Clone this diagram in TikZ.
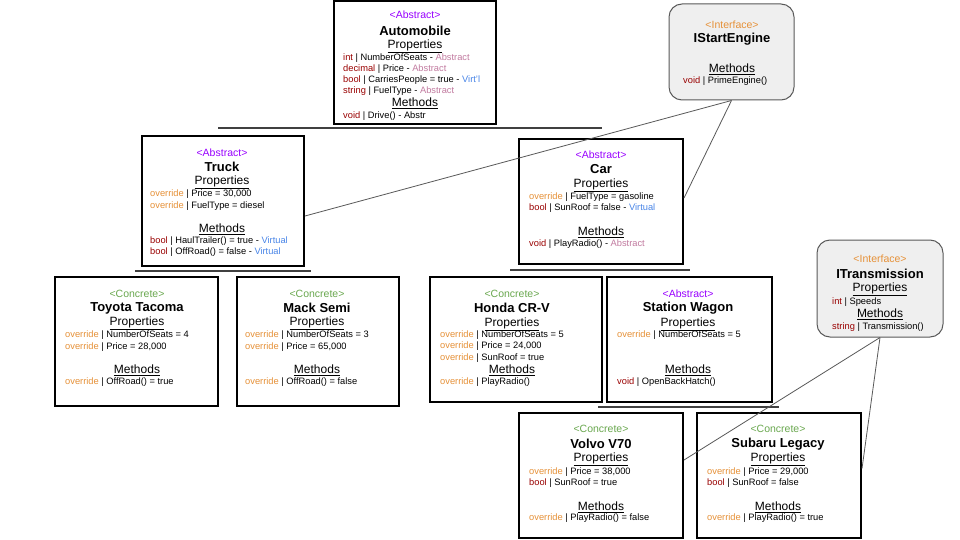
\documentclass[tikz,border=0pt]{standalone}
\usepackage{fontspec}
\setmainfont{Liberation Sans}
\definecolor{abs}{HTML}{9900FF}
\definecolor{con}{HTML}{6AA84F}
\definecolor{ifc}{HTML}{E69138}
\definecolor{typ}{HTML}{990000}
\definecolor{ovr}{HTML}{E69138}
\definecolor{pnk}{HTML}{C27BA0}
\definecolor{vir}{HTML}{4A86E8}
\definecolor{lgray}{HTML}{EFEFEF}
\definecolor{edgec}{HTML}{595959}
\newcommand\ty[1]{\textcolor{typ}{#1}}
\newcommand\ov{\textcolor{ovr}{override}}
\newcommand\ab{\textcolor{pnk}{Abstract}}
\newcommand\vi{\textcolor{vir}{Virtual}}
\begin{document}
\begin{tikzpicture}[x=1pt,y=-1pt,
  box/.style={draw=black, line width=2pt, fill=white, inner sep=0pt},
  iface/.style={draw=edgec, line width=1pt, fill=lgray, rounded corners=13pt, inner sep=0pt},
  st/.style={font=\fontsize{10.5}{12}\selectfont, inner sep=0pt},
  ti/.style={font=\fontsize{13}{15}\selectfont\bfseries, inner sep=0pt},
  hd/.style={font=\fontsize{12}{14}\selectfont, inner sep=0pt},
  it/.style={font=\fontsize{9.3}{11}\selectfont, inner sep=0pt, anchor=west},
  sepline/.style={draw=black!75, line width=1.3pt},
  conn/.style={draw=edgec, line width=0.8pt}]
\useasboundingbox (0,0) rectangle (960,540);
\fill[white] (0,0) rectangle (960,540);

% boxes
\node[box, minimum width=162pt, minimum height=123pt] (auto) at (415,62.5) {};
\node[iface, minimum width=125pt, minimum height=96pt] (istart) at (731.5,52) {};
\node[box, minimum width=162pt, minimum height=130pt] (truck) at (223,201) {};
\node[box, minimum width=164pt, minimum height=125pt] (car) at (601,201.5) {};
\node[box, minimum width=163pt, minimum height=129pt] (toyota) at (136.5,341.5) {};
\node[box, minimum width=162pt, minimum height=129pt] (mack) at (318,341.5) {};
\node[box, minimum width=172pt, minimum height=125pt] (honda) at (516,339.5) {};
\node[box, minimum width=165pt, minimum height=125pt] (wagon) at (689.5,339.5) {};
\node[iface, minimum width=126pt, minimum height=97pt] (itrans) at (880,288.5) {};
\node[box, minimum width=164pt, minimum height=125pt] (volvo) at (601,475.5) {};
\node[box, minimum width=164pt, minimum height=125pt] (subaru) at (779,475.5) {};

% inheritance bars
\draw[sepline] (218,128) -- (602,128);
\draw[sepline] (135,271) -- (311,271);
\draw[sepline] (510,270) -- (690,270);
\draw[sepline] (598,407) -- (779,407);

% interface connectors
\draw[conn] (istart.south) -- ([yshift=-15pt]truck.east);
\draw[conn] (istart.south) -- ([yshift=3.5pt]car.east);
\draw[conn] (itrans.south) -- ([yshift=15.5pt]volvo.east);
\draw[conn] (itrans.south) -- ([yshift=7pt]subaru.east);

% Automobile
\node[st, text=abs] (a1) at (415,15) {<Abstract>};
\node[ti] (a2) at (415,31) {Automobile};
\node[hd] (a3) at (415,46) {\underline{Properties}};
\node[it] (a4) at (343,58) {\ty{int} | NumberOfSeats - \ab};
\node[it] (a5) at (343,69) {\ty{decimal} | Price - \ab};
\node[it] (a6) at (343,80) {\ty{bool} | CarriesPeople = true - \textcolor{vir}{Virt'l}};
\node[it] (a7) at (343,91) {\ty{string} | FuelType - \ab};
\node[hd] (a8) at (415,103) {\underline{Methods}};
\node[it] (a9) at (343,116) {\ty{void} | Drive() - Abstr};

% IStartEngine
\node[st, text=ifc] (b1) at (732,25) {<Interface>};
\node[ti] (b2) at (732,39) {IStartEngine};
\node[hd] (b3) at (732,69) {\underline{Methods}};
\node[it] (b4) at (683,81) {\ty{void} | PrimeEngine()};

% Truck
\node[st, text=abs] (c1) at (222,153) {<Abstract>};
\node[ti] (c2) at (222,167) {Truck};
\node[hd] (c3) at (222,182) {\underline{Properties}};
\node[it] (c4) at (150,194) {\ov{} | Price = 30,000};
\node[it] (c5) at (150,206) {\ov{} | FuelType = diesel};
\node[hd] (c6) at (222,229) {\underline{Methods}};
\node[it] (c7) at (150,241) {\ty{bool} | HaulTrailer() = true - \vi};
\node[it] (c8) at (150,252) {\ty{bool} | OffRoad() = false - \vi};

% Car
\node[st, text=abs] (d1) at (601,155) {<Abstract>};
\node[ti] (d2) at (601,169) {Car};
\node[hd] (d3) at (601,185) {\underline{Properties}};
\node[it] (d4) at (529,197) {\ov{} | FuelType = gasoline};
\node[it] (d5) at (529,208) {\ty{bool} | SunRoof = false - \vi};
\node[hd] (d6) at (601,232) {\underline{Methods}};
\node[it] (d7) at (529,244) {\ty{void} | PlayRadio() - \ab};

% Toyota Tacoma
\node[st, text=con] (e1) at (137,294) {<Concrete>};
\node[ti] (e2) at (137,308) {Toyota Tacoma};
\node[hd] (e3) at (137,323) {\underline{Properties}};
\node[it] (e4) at (65,335) {\ov{} | NumberOfSeats = 4};
\node[it] (e5) at (65,347) {\ov{} | Price = 28,000};
\node[hd] (e6) at (137,370) {\underline{Methods}};
\node[it] (e7) at (65,382) {\ov{} | OffRoad() = true};

% Mack Semi
\node[st, text=con] (f1) at (317,294) {<Concrete>};
\node[ti] (f2) at (317,308) {Mack Semi};
\node[hd] (f3) at (317,323) {\underline{Properties}};
\node[it] (f4) at (245,335) {\ov{} | NumberOfSeats = 3};
\node[it] (f5) at (245,347) {\ov{} | Price = 65,000};
\node[hd] (f6) at (317,370) {\underline{Methods}};
\node[it] (f7) at (245,382) {\ov{} | OffRoad() = false};

% Honda CR-V
\node[st, text=con] (g1) at (512,294) {<Concrete>};
\node[ti] (g2) at (512,308) {Honda CR-V};
\node[hd] (g3) at (512,324) {\underline{Properties}};
\node[it] (g4) at (440,335) {\ov{} | NumberOfSeats = 5};
\node[it] (g5) at (440,346) {\ov{} | Price = 24,000};
\node[it] (g6) at (440,358) {\ov{} | SunRoof = true};
\node[hd] (g7) at (512,370) {\underline{Methods}};
\node[it] (g8) at (440,382) {\ov{} | PlayRadio()};

% Station Wagon
\node[st, text=abs] (h1) at (688,294) {<Abstract>};
\node[ti] (h2) at (688,308) {Station Wagon};
\node[hd] (h3) at (688,324) {\underline{Properties}};
\node[it] (h4) at (617,335) {\ov{} | NumberOfSeats = 5};
\node[hd] (h5) at (688,370) {\underline{Methods}};
\node[it] (h6) at (617,382) {\ty{void} | OpenBackHatch()};

% ITransmission
\node[st, text=ifc] (i1) at (880,259) {<Interface>};
\node[ti] (i2) at (880,274) {ITransmission};
\node[hd] (i3) at (880,289) {\underline{Properties}};
\node[it] (i4) at (832,302) {\ty{int} | Speeds};
\node[hd] (i5) at (880,314) {\underline{Methods}};
\node[it] (i6) at (832,327) {\ty{string} | Transmission()};

% Volvo V70
\node[st, text=con] (j1) at (601,429) {<Concrete>};
\node[ti] (j2) at (601,444) {Volvo V70};
\node[hd] (j3) at (601,459) {\underline{Properties}};
\node[it] (j4) at (529,472) {\ov{} | Price = 38,000};
\node[it] (j5) at (529,483) {\ty{bool} | SunRoof = true};
\node[hd] (j6) at (601,507) {\underline{Methods}};
\node[it] (j7) at (529,518) {\ov{} | PlayRadio() = false};

% Subaru Legacy
\node[st, text=con] (k1) at (778,429) {<Concrete>};
\node[ti] (k2) at (778,444) {Subaru Legacy};
\node[hd] (k3) at (778,459) {\underline{Properties}};
\node[it] (k4) at (707,472) {\ov{} | Price = 29,000};
\node[it] (k5) at (707,483) {\ty{bool} | SunRoof = false};
\node[hd] (k6) at (778,507) {\underline{Methods}};
\node[it] (k7) at (707,518) {\ov{} | PlayRadio() = true};
\end{tikzpicture}
\end{document}
